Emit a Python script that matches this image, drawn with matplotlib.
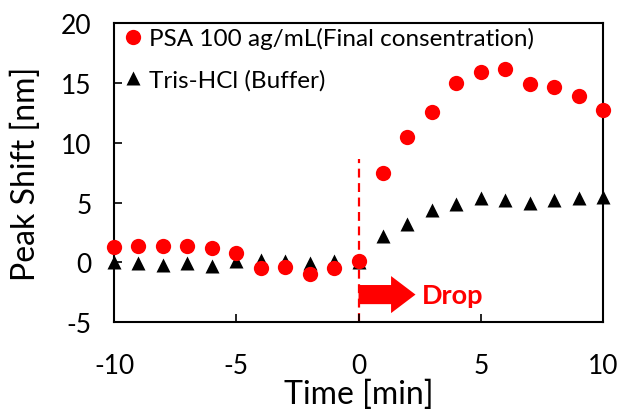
import matplotlib
matplotlib.use('Agg')
import matplotlib.pyplot as plt
from matplotlib.patches import FancyArrow

plt.rcParams['font.family'] = ['Lato', 'DejaVu Sans']
plt.rcParams['axes.unicode_minus'] = False

tempo = [-10, -9, -8, -7, -6, -5, -4, -3, -2, -1, 0, 1, 2, 3, 4, 5, 6, 7, 8, 9, 10]
psa = [1.3, 1.4, 1.4, 1.4, 1.2, 0.8, -0.5, -0.4, -1.0, -0.5, 0.15,
       7.5, 10.5, 12.6, 15.0, 15.9, 16.2, 14.9, 14.7, 13.9, 12.7]
tris = [0.0, -0.1, -0.2, -0.1, -0.3, 0.1, 0.2, 0.1, -0.1, 0.1, 0.0,
        2.2, 3.2, 4.4, 4.9, 5.4, 5.2, 5.0, 5.2, 5.4, 5.5]

fig = plt.figure(figsize=(6.23, 4.1), dpi=100)
ax = fig.add_axes([0.183, 0.212, 0.785, 0.729])

ax.plot(tempo, psa, 'o', color='#ff0000', ms=11, mec='none',
        label='PSA 100 ag/mL(Final consentration)', clip_on=False, zorder=3)
ax.plot(tempo, tris, '^', color='black', ms=9.5, mec='none',
        label='Tris-HCl (Buffer)', clip_on=False, zorder=2)

# linha de gota e seta
ax.plot([0, 0], [-5, 8.6], '--', color='#ff0000', lw=1.6, dashes=(4, 2.5), zorder=1)
ax.add_patch(FancyArrow(0, -2.7, 1.33, 0, width=1.6, head_width=3.1,
                        head_length=1.0, color='#ff0000', lw=0, zorder=4))
ax.text(2.6, -2.75, 'Drop', color='#ff0000', fontsize=19.5, fontweight='bold',
        va='center', ha='left')

ax.set_xlim(-10, 10)
ax.set_ylim(-5, 20)
ax.set_xticks([-10, -5, 0, 5, 10])
ax.set_yticks([-5, 0, 5, 10, 15, 20])
ax.tick_params(direction='in', labelsize=19, width=1.2, length=6)
ax.tick_params(axis='x', pad=22)
ax.tick_params(axis='y', pad=16)
for s in ax.spines.values():
    s.set_linewidth(1.5)

ax.set_xlabel('Time [min]', fontsize=23)
ax.set_ylabel('Peak Shift [nm]', fontsize=23)
ax.xaxis.set_label_coords(0.5, -0.19)
ax.yaxis.set_label_coords(-0.15, 0.5)

ax.legend(loc='upper left', bbox_to_anchor=(0.012, 0.99), frameon=False,
          fontsize=17.5, handletextpad=0.15, borderaxespad=0,
          labelspacing=0.8, handlelength=1.0, borderpad=0.05)

fig.savefig('out.png', dpi=100)
